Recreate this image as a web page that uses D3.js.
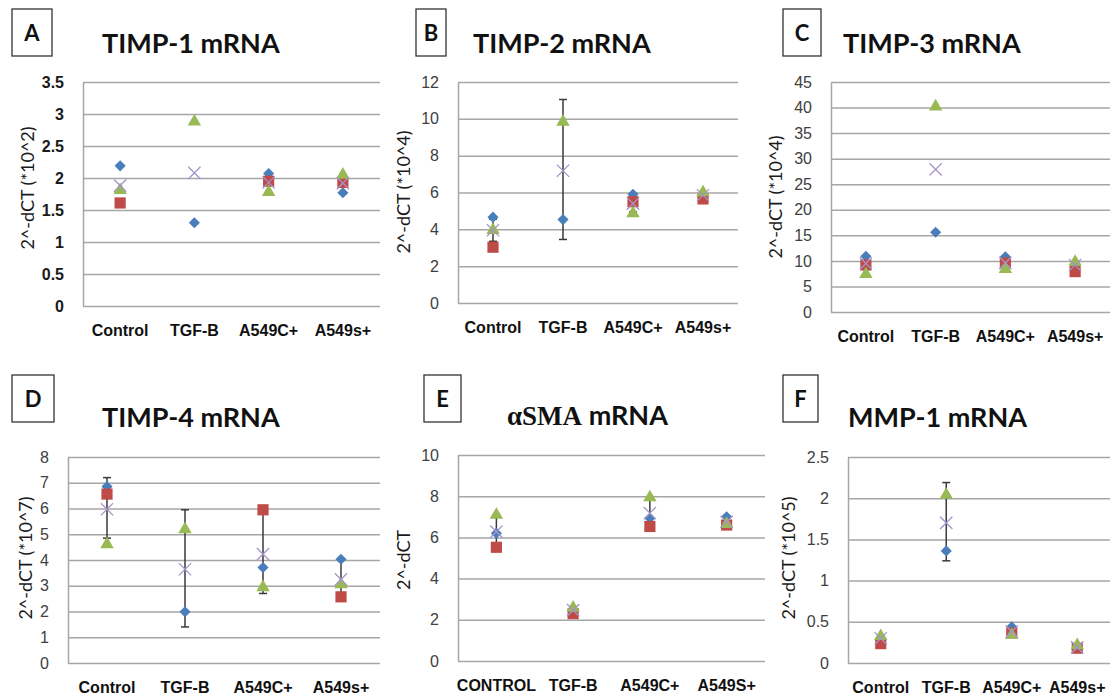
<!DOCTYPE html>
<html>
<head>
<meta charset="utf-8">
<script src="https://cdn.jsdelivr.net/npm/d3@7"></script>
<style>
  body { margin: 0; background: #fff; }
  svg { display: block; font-family: Lato, "Open Sans", sans-serif; }
</style>
</head>
<body>
<div id="chart"></div>
<script>
// categories
var categories = ["Control", "TGF-B", "A549C+", "A549s+"];
var categoriesE = ["CONTROL", "TGF-B", "A549C+", "A549S+"];

// A - TIMP-1
var blueA = [2.19, 1.30, 2.07, 1.77];
var redA = [1.61, null, 1.95, 1.93];
var greenA = [1.81, 2.88, 1.78, 2.05];
var meanA = [1.88, 2.08, 1.93, 1.92];
var loA = [null, null, null, null];
var hiA = [null, null, null, null];

// B - TIMP-2
var blueB = [4.66, 4.53, 5.9, 5.9];
var redB = [3.03, null, 5.5, 5.65];
var greenB = [3.96, 9.84, 4.87, 6.0];
var meanB = [3.95, 7.18, 5.4, 5.85];
var loB = [3.35, 3.45, 4.95, null];
var hiB = [4.55, 11.05, 5.85, null];

// C - TIMP-3
var blueC = [10.9, 15.6, 10.8, 9.3];
var redC = [9.2, null, 9.6, 7.9];
var greenC = [7.4, 40.2, 8.4, 9.8];
var meanC = [9.5, 27.9, 9.6, 9.2];
var loC = [null, null, null, null];
var hiC = [null, null, null, null];

// D - TIMP-4
var blueD = [6.85, 1.99, 3.71, 4.03];
var redD = [6.56, null, 5.95, 2.57];
var greenD = [4.61, 5.19, 2.94, 3.05];
var meanD = [5.97, 3.64, 4.23, 3.25];
var loD = [4.85, 1.4, 2.7, 2.55];
var hiD = [7.2, 5.95, 5.95, 4.0];

// E - aSMA
var blueE = [6.2, 2.45, 6.93, 7.0];
var redE = [5.52, 2.3, 6.53, 6.6];
var greenE = [7.09, 2.58, 7.94, 6.65];
var meanE = [6.28, 2.47, 7.18, 6.75];
var loE = [5.5, null, 6.45, null];
var hiE = [7.07, null, 7.9, null];

// F - MMP-1
var blueF = [0.28, 1.36, 0.44, 0.18];
var redF = [0.235, null, 0.365, 0.18];
var greenF = [0.325, 2.04, 0.34, 0.215];
var meanF = [0.30, 1.70, 0.38, 0.19];
var loF = [null, 1.24, null, null];
var hiF = [null, 2.19, null, null];

var yMaxs = [3.5, 12, 45, 8, 10, 2.5];
var ySteps = [0.5, 2, 5, 1, 2, 0.5];
var yLabels = ["2^-dCT (*10^2)", "2^-dCT (*10^4)", "2^-dCT (*10^4)", "2^-dCT (*10^7)", "2^-dCT", "2^-dCT (*10^5)"];
var titles = ["TIMP-1 mRNA", "TIMP-2 mRNA", "TIMP-3 mRNA", "TIMP-4 mRNA", "mRNA", "MMP-1 mRNA"];
var letters = ["A", "B", "C", "D", "E", "F"];

var panels = [
  {cats: categories, blue: blueA, red: redA, green: greenA, mean: meanA, lo: loA, hi: hiA,
   plot: {l: 83, r: 380, t: 82, b: 306}, box: {x: 12, y: 9, w: 40, h: 47}, tx: 102, ty: 53, yl: [27, 188], boldTicks: true},
  {cats: categories, blue: blueB, red: redB, green: greenB, mean: meanB, lo: loB, hi: hiB,
   plot: {l: 458, r: 738, t: 82, b: 303}, box: {x: 416, y: 9, w: 30, h: 47}, tx: 473, ty: 53, yl: [403, 192]},
  {cats: categories, blue: blueC, red: redC, green: greenC, mean: meanC, lo: loC, hi: hiC,
   plot: {l: 831, r: 1110, t: 82, b: 312}, box: {x: 783, y: 9, w: 38, h: 47}, tx: 843, ty: 53, yl: [775, 197]},
  {cats: categories, blue: blueD, red: redD, green: greenD, mean: meanD, lo: loD, hi: hiD,
   plot: {l: 68, r: 380, t: 457, b: 663}, box: {x: 12, y: 375, w: 42, h: 47}, tx: 102, ty: 427, yl: [25, 558]},
  {cats: categoriesE, blue: blueE, red: redE, green: greenE, mean: meanE, lo: loE, hi: hiE,
   plot: {l: 458, r: 765, t: 455, b: 661}, box: {x: 424, y: 375, w: 37, h: 47}, tx: 507, ty: 425, yl: [403, 560], greek: true},
  {cats: categories, blue: blueF, red: redF, green: greenF, mean: meanF, lo: loF, hi: hiF,
   plot: {l: 848, r: 1110, t: 457, b: 663}, box: {x: 783, y: 375, w: 35, h: 47}, tx: 848, ty: 427, yl: [788, 558]}
];

var svg = d3.select("#chart").append("svg")
    .attr("width", 1110)
    .attr("height", 698);

var gridColor = "#a6a6a6";
var textColor = "#404040";

panels.forEach(function(p, i) {
    var g = svg.append("g");
    var pl = p.plot;

    var x = d3.scaleBand().domain(p.cats).range([pl.l, pl.r]);
    var y = d3.scaleLinear().domain([0, yMaxs[i]]).range([pl.b, pl.t]);
    var ticks = d3.range(0, yMaxs[i] + ySteps[i] / 2, ySteps[i]);

    // y axis with gridlines
    var yAxis = g.append("g")
        .attr("transform", "translate(" + pl.l + ",0)")
        .call(d3.axisLeft(y).tickValues(ticks).tickFormat(d3.format("~g"))
            .tickSizeInner(-(pl.r - pl.l)).tickSizeOuter(0).tickPadding(19));
    yAxis.select(".domain").attr("stroke", gridColor).attr("stroke-width", 1.5);
    yAxis.selectAll(".tick line").attr("stroke", gridColor).attr("stroke-width", 1.5);
    yAxis.selectAll(".tick text")
        .attr("fill", p.boldTicks ? "#1a1a1a" : textColor)
        .style("font-size", "16px")
        .style("font-weight", p.boldTicks ? "bold" : "normal");

    // x axis labels
    var xAxis = g.append("g")
        .attr("transform", "translate(0," + pl.b + ")")
        .call(d3.axisBottom(x).tickSize(0).tickPadding(19));
    xAxis.select(".domain").remove();
    xAxis.selectAll(".tick text")
        .attr("fill", "#111")
        .style("font-size", "16px")
        .style("font-weight", "bold");

    // y label
    g.append("text")
        .attr("transform", "translate(" + p.yl[0] + "," + p.yl[1] + ") rotate(-90)")
        .attr("text-anchor", "middle")
        .attr("dominant-baseline", "central")
        .attr("fill", "#1a1a1a")
        .style("font-size", "18px")
        .text(yLabels[i]);

    // letter box
    g.append("rect")
        .attr("x", p.box.x).attr("y", p.box.y)
        .attr("width", p.box.w).attr("height", p.box.h)
        .attr("fill", "#fff").attr("stroke", "#333").attr("stroke-width", 1.3);
    g.append("text")
        .attr("x", p.box.x + p.box.w / 2).attr("y", p.box.y + p.box.h / 2 + 8)
        .attr("text-anchor", "middle")
        .style("font-size", "22px").style("font-weight", "bold")
        .attr("fill", "#111")
        .text(letters[i]);

    // title
    var t = g.append("text")
        .attr("x", p.tx).attr("y", p.ty)
        .attr("fill", "#111")
        .style("font-size", "27px").style("font-weight", "bold");
    if (p.greek) {
        t.append("tspan").style("font-family", "'Liberation Serif', 'DejaVu Serif', serif")
            .style("font-weight", "bold").text("\u03B1SMA");
        t.append("tspan").text(" " + titles[i]);
    } else {
        t.text(titles[i]);
    }

    var cx = function(j) { return x(p.cats[j]) + x.bandwidth() / 2; };

    // error bars
    p.cats.forEach(function(c, j) {
        if (p.lo[j] == null) return;
        var xc = cx(j);
        var eg = g.append("g").attr("stroke", "#3a3a3a").attr("stroke-width", 1.5);
        eg.append("line").attr("x1", xc).attr("x2", xc).attr("y1", y(p.lo[j])).attr("y2", y(p.hi[j]));
        eg.append("line").attr("x1", xc - 4).attr("x2", xc + 4).attr("y1", y(p.lo[j])).attr("y2", y(p.lo[j]));
        eg.append("line").attr("x1", xc - 4).attr("x2", xc + 4).attr("y1", y(p.hi[j])).attr("y2", y(p.hi[j]));
    });

    // markers
    var series = [
        {vals: p.blue, type: d3.symbolSquare, size: 62, rot: 45, fill: "#4a7ebb"},
        {vals: p.red, type: d3.symbolSquare, size: 125, rot: 0, fill: "#be4b48"},
        {vals: p.green, type: d3.symbolTriangle, size: 78, rot: 0, fill: "#98b954"},
        {vals: p.mean, type: d3.symbolTimes, size: 100, rot: 0, stroke: "#a594c9"}
    ];
    series.forEach(function(s) {
        g.selectAll(null)
            .data(s.vals.map(function(v, j) { return {v: v, j: j}; }).filter(function(d) { return d.v != null; }))
            .enter().append("path")
            .attr("d", d3.symbol().type(s.type).size(s.size))
            .attr("transform", function(d) { return "translate(" + cx(d.j) + "," + y(d.v) + ") rotate(" + s.rot + ")"; })
            .attr("fill", s.fill || "none")
            .attr("stroke", s.stroke || "none")
            .attr("stroke-width", 1.3);
    });
});
</script>
</body>
</html>
